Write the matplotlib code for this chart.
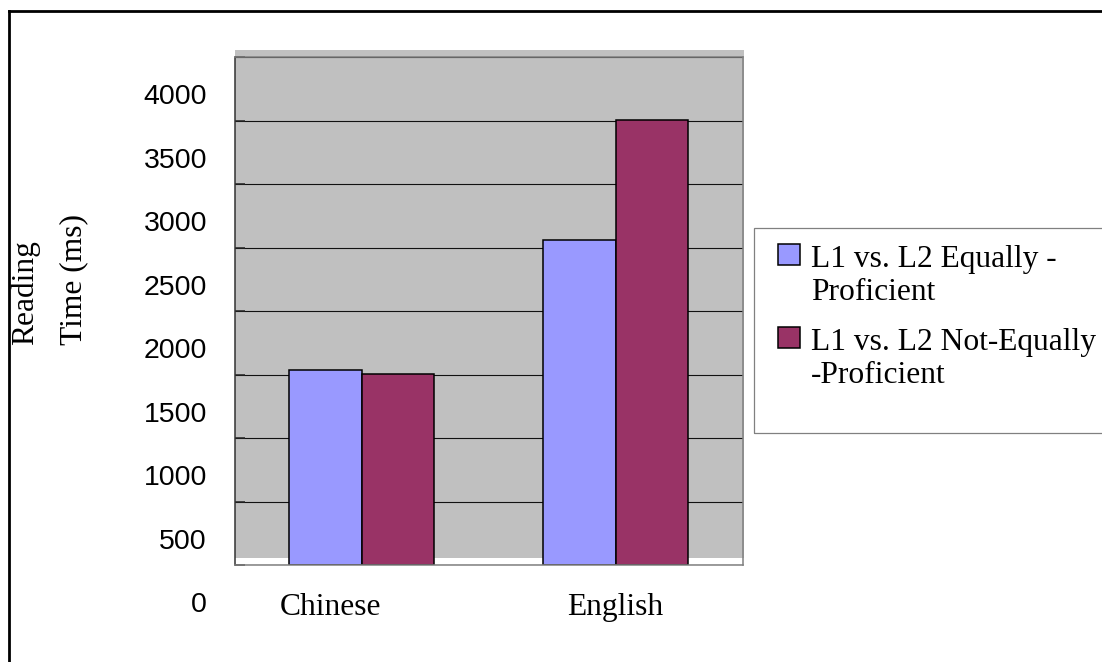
import matplotlib
matplotlib.use('Agg')
import matplotlib.pyplot as plt
from matplotlib.patches import Rectangle
from matplotlib.lines import Line2D
from matplotlib.transforms import ScaledTranslation

# ---------------- data ----------------
categories = ['Chinese', 'English']
series_names = ['L1 vs. L2 Equally -\nProficient', 'L1 vs. L2 Not-Equally\n-Proficient']
equally_proficient = [1534, 2561]
not_equally_proficient = [1505, 3506]
series_values = [equally_proficient, not_equally_proficient]
series_colors = ['#9999FF', '#993366']
y_ticks = [0, 500, 1000, 1500, 2000, 2500, 3000, 3500, 4000]
y_label_lines = ['Reading', 'Time (ms)']

# ---------------- layout ----------------
W, H, DPI = 1102, 662, 100
SERIF = ['Liberation Serif', 'DejaVu Serif']
SANS = ['Liberation Sans', 'DejaVu Sans']
FS_SERIF = 22.7
FS_TICK = 20.5

fig = plt.figure(figsize=(W / DPI, H / DPI), dpi=DPI)
fig.patch.set_facecolor('white')


def fx(px):
    return px / W


def fy(py):
    return 1 - py / H


ax_l, ax_r, ax_t, ax_b = 234.5, 742.5, 57.3, 565.0
ax = fig.add_axes([fx(ax_l), fy(ax_b), (ax_r - ax_l) / W, (ax_b - ax_t) / H])
ax.set_facecolor('none')
ax.set_xlim(-0.5, len(categories) - 0.5)
ax.set_ylim(y_ticks[0], y_ticks[-1])

# gray plot background (slightly offset like the original rendering)
ax_h = ax_b - ax_t
ax_w = ax_r - ax_l
gy0 = (ax_b - 558.3) / ax_h
gy1 = (ax_b - 50.0) / ax_h
gx1 = (744.0 - ax_l) / ax_w
ax.add_patch(Rectangle((0, gy0), gx1, gy1 - gy0, transform=ax.transAxes,
                       facecolor='#C0C0C0', edgecolor='none', zorder=0.1,
                       clip_on=False))

# bars
n = len(series_values)
bw = 1 / 3.5
for k, (vals, col) in enumerate(zip(series_values, series_colors)):
    xs = [i + (k - (n - 1) / 2) * bw for i in range(len(categories))]
    ax.bar(xs, vals, width=bw, color=col, edgecolor='black', linewidth=1.1,
           zorder=2)

# grid
ax.set_axisbelow(True)
ax.yaxis.grid(True, color='#111111', linewidth=0.8)
ax.xaxis.grid(False)

# spines
for s in ['top', 'right', 'bottom']:
    ax.spines[s].set_color('#808080')
    ax.spines[s].set_linewidth(1.1)
ax.spines['left'].set_color('#333333')
ax.spines['left'].set_linewidth(1.1)

# y ticks (labels drawn shifted downward as in the original)
ax.set_yticks(y_ticks)
ax.set_yticklabels([str(v) for v in y_ticks], fontsize=FS_TICK, family=SANS)
ax.tick_params(axis='y', direction='in', length=7.2, width=1.1,
               color='#222222', pad=19.8)
off_y = ScaledTranslation(0, -37 / DPI, fig.dpi_scale_trans)
for lab in ax.get_yticklabels():
    lab.set_transform(lab.get_transform() + off_y)

# x ticks
ax.set_xticks(range(len(categories)))
ax.set_xticklabels(categories, fontsize=FS_SERIF, family=SERIF)
ax.tick_params(axis='x', length=0, pad=20.5)
xl = ax.get_xticklabels()
xl[0].set_transform(xl[0].get_transform() +
                    ScaledTranslation(-31 / DPI, 0, fig.dpi_scale_trans))

# y-axis label (two rotated lines)
for j, (txt, bx) in enumerate(zip(y_label_lines, [33.3, 81.7])):
    fig.text(fx(bx), fy(345.5), txt, rotation=90, rotation_mode='anchor',
             ha='left', va='baseline', fontsize=FS_SERIF, family=SERIF)

# legend (manual, box runs off the right edge)
fig.patches.append(Rectangle((fx(754.3), fy(433.3)), fx(1130 - 754.3),
                             (433.3 - 228.3) / H, transform=fig.transFigure,
                             fill=False, edgecolor='#808080', linewidth=0.9))
for i, (name, col) in enumerate(zip(series_names, series_colors)):
    sq_top = 243.5 + i * 83.5
    fig.patches.append(Rectangle((fx(777.5), fy(sq_top + 21)), 22 / W, 21 / H,
                                 transform=fig.transFigure, facecolor=col,
                                 edgecolor='black', linewidth=1.1))
    for j, line in enumerate(name.split('\n')):
        fig.text(fx(811), fy(267 + i * 83 + j * 33), line, ha='left',
                 va='baseline', fontsize=FS_SERIF, family=SERIF)

# outer frame (top and left edges visible)
fig.lines.append(Line2D([fx(8.7), 1.02], [fy(11.3), fy(11.3)],
                        transform=fig.transFigure, color='black',
                        linewidth=2.0))
fig.lines.append(Line2D([fx(8.7), fx(8.7)], [fy(11.3), -0.02],
                        transform=fig.transFigure, color='black',
                        linewidth=2.0))

fig.savefig('out.png', dpi=DPI)
